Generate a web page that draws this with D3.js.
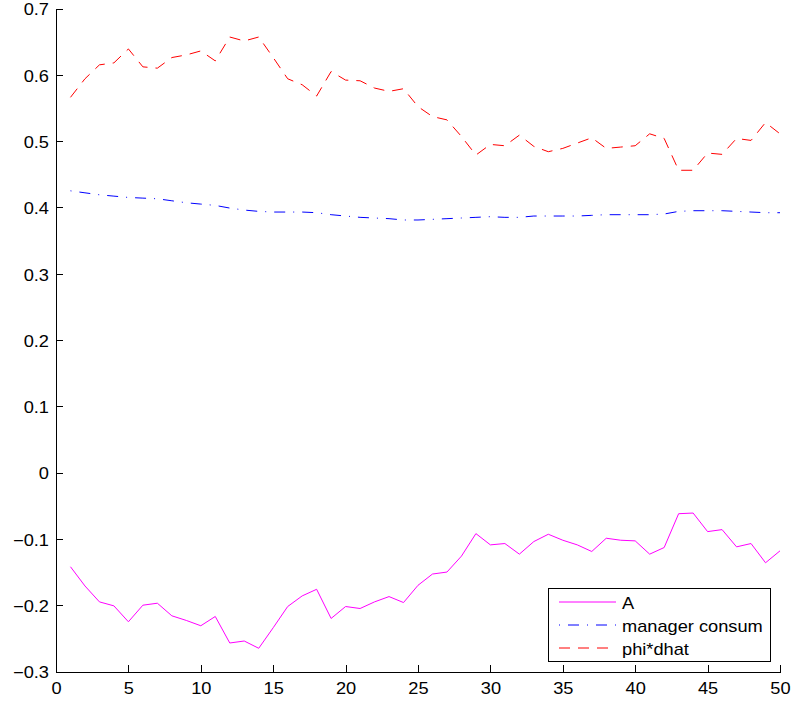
<!DOCTYPE html>
<html>
<head>
<meta charset="utf-8">
<script src="https://cdn.jsdelivr.net/npm/d3@7"></script>
<style>
  body { margin: 0; background: #fff; }
  svg text { font-family: "Liberation Sans", Arial, Helvetica, sans-serif; }
</style>
</head>
<body>
<div class="svgcont"></div>
<script>
const w = 793;
const h = 704;

// data
const steps = d3.range(1, 51);
const seriesA = [
  -0.142, -0.171, -0.195, -0.201, -0.225, -0.200, -0.197, -0.216, -0.223, -0.231,
  -0.217, -0.257, -0.254, -0.265, -0.234, -0.202, -0.186, -0.176, -0.220, -0.202,
  -0.205, -0.195, -0.187, -0.196, -0.170, -0.153, -0.150, -0.126, -0.092, -0.109,
  -0.107, -0.123, -0.104, -0.093, -0.102, -0.109, -0.119, -0.099, -0.102, -0.103,
  -0.123, -0.113, -0.062, -0.061, -0.089, -0.086, -0.112, -0.107, -0.136, -0.118
];
const managerConsum = [
  0.425, 0.422, 0.419, 0.417, 0.415, 0.414, 0.413, 0.410, 0.407, 0.405,
  0.403, 0.399, 0.396, 0.394, 0.393, 0.393, 0.393, 0.392, 0.389, 0.387,
  0.385, 0.384, 0.383, 0.381, 0.381, 0.382, 0.383, 0.384, 0.385, 0.386,
  0.385, 0.385, 0.387, 0.387, 0.387, 0.387, 0.388, 0.389, 0.389, 0.389,
  0.389, 0.390, 0.394, 0.395, 0.395, 0.395, 0.394, 0.393, 0.392, 0.392
];
const phiDhat = [
  0.566, 0.594, 0.615, 0.618, 0.639, 0.612, 0.610, 0.626, 0.630, 0.636,
  0.621, 0.657, 0.651, 0.657, 0.626, 0.594, 0.585, 0.568, 0.605, 0.592,
  0.591, 0.580, 0.575, 0.579, 0.552, 0.537, 0.532, 0.507, 0.479, 0.495,
  0.493, 0.509, 0.492, 0.484, 0.489, 0.497, 0.505, 0.489, 0.491, 0.493,
  0.511, 0.504, 0.456, 0.456, 0.482, 0.480, 0.504, 0.501, 0.528, 0.511
];
const xTicks = [0, 5, 10, 15, 20, 25, 30, 35, 40, 45, 50];
const yTicks = [-0.3, -0.2, -0.1, 0, 0.1, 0.2, 0.3, 0.4, 0.5, 0.6, 0.7];
const legendNames = ["A", "manager consum", "phi*dhat"];

const series = [
  { name: legendNames[0], values: seriesA, color: "#ff00ff", dash: null },
  { name: legendNames[1], values: managerConsum, color: "#0000ff", dash: "1,8,11,8" },
  { name: legendNames[2], values: phiDhat, color: "#ff0000", dash: "11,8" }
];

const plotLeft = 56, plotRight = 780, plotTop = 8.5, plotBottom = 671.5;
const stretch = "scale(1.14,1)"; // the original text is a bit wider than Arial

const xScale = d3.scaleLinear().domain([0, 50]).range([plotLeft, plotRight]);
const yScale = d3.scaleLinear().domain([-0.3, 0.7]).range([plotBottom, plotTop]);

let svg = d3.select(".svgcont").
  append("svg").
  attr("width", w).
  attr("height", h);

const fmt = d => d < 0 ? "\u2212" + Math.abs(d) : String(d);

// axes (MATLAB style, ticks pointing inward, no box)
let xAxis = d3.axisBottom(xScale).tickValues(xTicks).tickSizeInner(-7).tickSizeOuter(0).tickFormat(fmt);
let yAxis = d3.axisLeft(yScale).tickValues(yTicks).tickSizeInner(-7).tickSizeOuter(0).tickFormat(fmt);

let gx = svg.append("g").attr("transform", `translate(0,${plotBottom})`).call(xAxis);
let gy = svg.append("g").attr("transform", `translate(${plotLeft},0)`).call(yAxis);

[gx, gy].forEach(g => {
  g.selectAll("path, line").attr("stroke", "#000").attr("stroke-width", 1).attr("shape-rendering", "crispEdges");
  g.selectAll("text").attr("fill", "#000").style("font-size", "16px");
});
gx.selectAll("text").
  attr("y", 0).attr("dy", 0).
  attr("transform", "translate(0,22.5) " + stretch);
gy.selectAll("text").
  attr("x", 0).attr("dy", 0).
  attr("transform", "translate(-7,6.3) " + stretch);

const line = d3.line().
  x((d, i) => xScale(steps[i])).
  y(d => yScale(d));

series.forEach(s => {
  svg.append("path").
    datum(s.values).
    attr("d", line).
    attr("fill", "none").
    attr("stroke", s.color).
    attr("stroke-width", 1).
    attr("stroke-dasharray", s.dash);
});

// legend
const lg = svg.append("g");
lg.append("rect").
  attr("x", 548.5).attr("y", 588.5).
  attr("width", 222).attr("height", 73).
  attr("fill", "#fff").attr("stroke", "#000").attr("stroke-width", 1);

const rowY = [602, 625, 648];
series.forEach((s, i) => {
  lg.append("line").
    attr("x1", 559).attr("x2", 616).
    attr("y1", rowY[i]).attr("y2", rowY[i]).
    attr("stroke", s.color).attr("stroke-width", 1).
    attr("stroke-dasharray", s.dash);
  lg.append("text").
    attr("transform", `translate(622,${rowY[i] + 6.5}) ` + stretch).
    style("font-size", "16px").
    text(s.name);
});
</script>
</body>
</html>
